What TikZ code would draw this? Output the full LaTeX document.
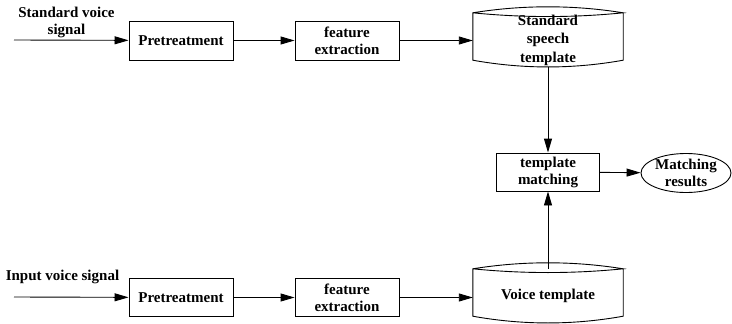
\documentclass[tikz,border=0pt]{standalone}
\usepackage{fontspec}
\setmainfont{Liberation Serif}
\usetikzlibrary{arrows.meta,shapes.geometric,calc}
\newcommand\drumshape[1]{%
  \draw[line width=0.9pt] (#1.north west)
    .. controls ([xshift=50pt,yshift=8pt]#1.north west) and ([xshift=-50pt,yshift=8pt]#1.north east) .. (#1.north east)
    .. controls ([xshift=-50pt,yshift=-5pt]#1.north east) and ([xshift=50pt,yshift=-5pt]#1.north west) .. (#1.north west)
    -- ([yshift=7pt]#1.south west)
    .. controls ([xshift=50pt,yshift=-2pt]#1.south west) and ([xshift=-50pt,yshift=-2pt]#1.south east) .. ([yshift=7pt]#1.south east)
    -- (#1.north east);}
\tikzset{
  every node/.style={font=\fontsize{15}{17}\selectfont\bfseries, text=black},
  stepbox/.style={draw, line width=0.9pt, rectangle, minimum width=104pt, minimum height=39pt, inner sep=0pt, align=center},
  drumnode/.style={minimum width=150pt, minimum height=54pt, inner sep=0pt, align=center},
  resnode/.style={draw, line width=0.9pt, ellipse, minimum width=90pt, minimum height=37pt, inner sep=0pt, align=center},
  conn/.style={line width=0.9pt, -{Triangle[length=14pt,width=8pt]}},
  lbl/.style={align=center, inner sep=0pt}
}
\begin{document}
\begin{tikzpicture}[x=1pt,y=-1pt]
\useasboundingbox (0,0) rectangle (732,324);
% top row
\node[lbl] (lbltop) at (66.5,22) {Standard voice\\signal};
\coordinate (in1) at (14,40);
\node[stepbox] (pre1) at (181,40.5) {Pretreatment};
\node[stepbox] (fe1) at (347,40.5) {feature\\extraction};
\node[drumnode, font=\fontsize{15}{18.5}\selectfont\bfseries] (std) at (548,40) {Standard\\speech\\template};
\drumshape{std}
% middle
\node[stepbox, minimum width=103pt, minimum height=38pt] (tm) at (548,172) {template\\matching};
\node[resnode] (res) at (686,173) {Matching\\results};
% bottom row
\node[lbl] (lblbot) at (62.5,277) {Input voice signal};
\coordinate (in2) at (14,297);
\node[stepbox, minimum height=38pt] (pre2) at (181,297.5) {Pretreatment};
\node[stepbox, minimum height=38pt] (fe2) at (347,297.5) {feature\\extraction};
\node[drumnode] (voice) at (548,296) {Voice template};
\drumshape{voice}
% connectors
\draw[conn] (in1) -- (pre1);
\draw[conn] (pre1) -- (fe1);
\draw[conn] (fe1) -- (std.west |- fe1);
\draw[conn] (std.south) -- (tm.north);
\draw[conn] (tm) -- (res);
\draw[conn] (in2) -- (pre2);
\draw[conn] (pre2) -- (fe2);
\draw[conn] (fe2) -- (voice.west |- fe2);
\draw[conn] (voice.north) -- (tm.south);
\end{tikzpicture}
\end{document}
